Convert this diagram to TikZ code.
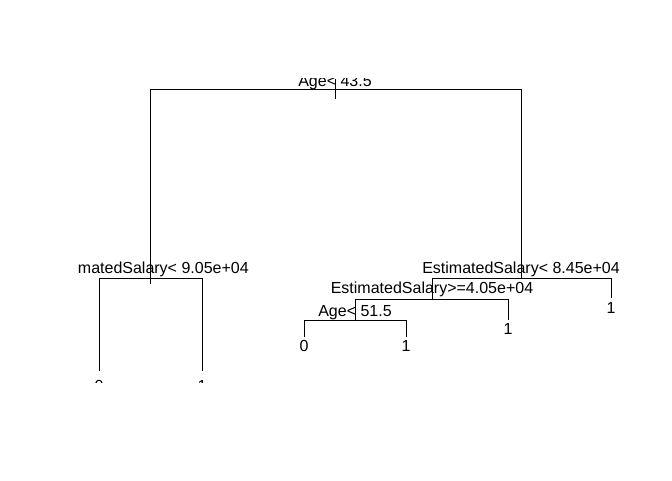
\documentclass[tikz,border=0pt]{standalone}
\usepackage{fontspec}
\setmainfont{Liberation Sans}
\begin{document}
\begin{tikzpicture}[x=0.75pt,y=-0.75pt,line width=0.75pt,
    every node/.style={font=\fontsize{12}{14}\selectfont, inner sep=0pt},
    splitlab/.style={anchor=base},
    leaflab/.style={anchor=base}]
    \useasboundingbox (0,0) rectangle (672,480);

    \begin{scope}
        \clip (78.5,78) rectangle (631.7,382.5);

        % split points and leaves
        \coordinate (rootTop) at (335,79);
        \coordinate (root) at (335,89);
        \coordinate (rootStem) at (335,99);
        \coordinate (salA) at (150,278);
        \coordinate (salAStem) at (150,284);
        \coordinate (salB) at (521,278);
        \coordinate (salC) at (432,299);
        \coordinate (ageB) at (355,320);
        \coordinate (leafA) at (99,371);
        \coordinate (leafB) at (202,371);
        \coordinate (leafC) at (304,337);
        \coordinate (leafD) at (406,337);
        \coordinate (leafE) at (508,320);
        \coordinate (leafF) at (611,298);

        % branches
        \draw (rootTop) -- (rootStem);
        \draw (root) -| (salA);
        \draw (root) -| (salB);
        \draw (salA) -- (salAStem);
        \draw (salA) -| (leafA);
        \draw (salA) -| (leafB);
        \draw (salB) -| (salC);
        \draw (salB) -| (leafF);
        \draw (salC) -| (ageB);
        \draw (salC) -| (leafE);
        \draw (ageB) -| (leafC);
        \draw (ageB) -| (leafD);

        % split labels
        \node[splitlab] (labRoot) at (335,86) {Age< 43.5};
        \node[splitlab] (labSalA) at (150,273) {EstimatedSalary< 9.05e+04};
        \node[splitlab] (labSalB) at (521,273) {EstimatedSalary< 8.45e+04};
        \node[splitlab] (labSalC) at (432,293.5) {EstimatedSalary>=4.05e+04};
        \node[splitlab] (labAgeB) at (355,316) {Age< 51.5};

        % leaf labels
        \node[leaflab] (labLeafA) at (99,391.5) {0};
        \node[leaflab] (labLeafB) at (202,391.5) {1};
        \node[leaflab] (labLeafC) at (304,351.5) {0};
        \node[leaflab] (labLeafD) at (406,351.5) {1};
        \node[leaflab] (labLeafE) at (508,334.5) {1};
        \node[leaflab] (labLeafF) at (611,313.5) {1};
    \end{scope}
\end{tikzpicture}
\end{document}
